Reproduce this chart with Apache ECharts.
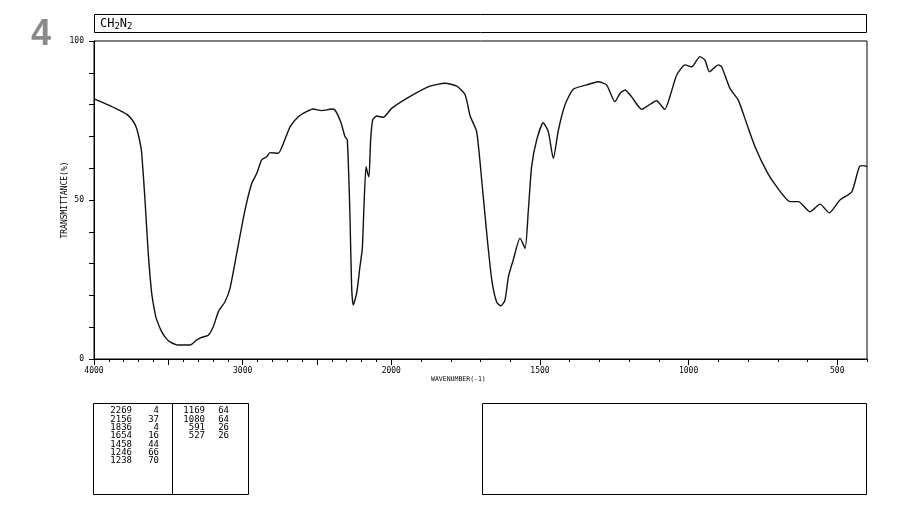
<!DOCTYPE html>
<html>
<head>
<meta charset="utf-8">
<script src="https://cdn.jsdelivr.net/npm/echarts@6/dist/echarts.min.js"></script>
<style>html,body{margin:0;padding:0;background:#fff}#c{width:905px;height:507px}</style>
</head>
<body>
<div id="c"></div>
<script>
// ---- data ----
const wavenumbers = [4000,3900,3800,3780,3740,3713,3690,3679,3657,3635,3612,3590,3578,3545,3515,3489,3433,3354,3309,3276,3231,3197,3163,3119,3085,3040,2984,2939,2905,2872,2838,2816,2760,2726,2681,2626,2570,2525,2468,2401,2379,2340,2312,2296,2278,2267,2256,2233,2211,2195,2184,2170,2159,2150,2139,2125,2098,2054,1999,1938,1870,1819,1780,1752,1735,1713,1696,1679,1662,1646,1632,1618,1606,1590,1567,1550,1539,1528,1511,1489,1472,1455,1438,1416,1388,1343,1304,1276,1248,1231,1214,1192,1158,1136,1108,1080,1063,1040,1012,990,962,945,930,900,889,861,833,805,777,737,704,659,631,592,558,527,491,451,424,410,400];
const transmittance = [81.8,79.8,77.5,77.0,75.0,72.5,68.0,64.7,50.0,33.2,20.7,14.5,12.3,8.6,6.5,5.4,4.4,4.4,6.0,6.8,7.5,10.2,14.9,18.0,22.2,33.2,46.9,55.2,58.4,62.6,63.6,64.9,64.7,67.8,73.0,76.2,77.8,78.6,78.1,78.6,78.3,74.5,70.0,68.9,45.0,22.7,17.0,20.7,29.0,34.8,47.9,60.5,58.4,57.3,68.9,75.2,76.4,76.0,78.8,82.5,85.8,86.7,85.8,83.2,76.5,71.5,56.3,39.5,24.8,18.0,16.7,18.4,25.9,31.1,38.0,34.8,46.9,60.5,68.9,74.3,71.5,63.1,72.0,79.9,84.8,86.2,87.2,86.2,80.9,83.5,84.6,82.5,78.5,79.7,81.2,78.5,82.5,89.3,92.5,91.9,95.1,94.0,90.3,92.5,91.9,85.1,81.4,74.1,66.8,58.9,54.2,49.5,49.5,46.3,48.7,46.0,50.0,52.6,60.7,60.8,60.5];
const xTickLabels = [4000,3000,2000,1500,1000,500];
const xLongTicks = [4000,3500,3000,2500,2000,1500,1000,500];
const yTickLabels = [0,50,100];
const titleText = 'CH{s|2}N{s|2}';
const pageNumber = '4';
const peakWn1 = ['2269','2156','1836','1654','1458','1246','1238'];
const peakT1  = ['4','37','4','16','44','66','70'];
const peakWn2 = ['1169','1080','591','527'];
const peakT2  = ['64','64','26','26'];

// axis scale: linear 4000-2000, doubled scale below 2000
function toU(w){ return w >= 2000 ? 4000 - w : 2000 + 2*(2000 - w); }
function fromU(u){ return u <= 2000 ? 4000 - u : 2000 - (u - 2000)/2; }

const minorTicks = [];
for (let w = 4000; w >= 400; w -= 100) minorTicks.push(toU(w));

const FONT = 'DejaVu Sans Mono';
const G = {left:94, top:41, width:773, height:318};

const graphics = [];
graphics.push({type:'text', left:31, top:17, style:{text:pageNumber, font:'bold 36px "Liberation Sans"', fill:'#8a8a8a'}});
graphics.push({type:'rect', shape:{x:94.5, y:14.5, width:772, height:18}, style:{fill:'none', stroke:'#000', lineWidth:1}});
graphics.push({type:'text', x:100, y:16, style:{text:titleText, font:'12px "'+FONT+'"', fill:'#000',
  rich:{s:{fontSize:9, fontFamily:FONT, padding:[6,0,0,0]}}}});
graphics.push({type:'text', x:431, y:376, style:{text:'WAVENUMBER(-1)', font:'6.5px "'+FONT+'"', fill:'#000'}});
graphics.push({type:'rect', shape:{x:93.5, y:403.5, width:155, height:91}, style:{fill:'none', stroke:'#000', lineWidth:1}});
graphics.push({type:'line', shape:{x1:172.5, y1:403.5, x2:172.5, y2:494.5}, style:{stroke:'#000', lineWidth:1}});
graphics.push({type:'rect', shape:{x:482.5, y:403.5, width:384, height:91}, style:{fill:'none', stroke:'#000', lineWidth:1}});
const rowH = 8.33;
peakWn1.forEach((t,i)=>{
  graphics.push({type:'text', x:132, y:411+i*rowH, style:{text:t, font:'9px "'+FONT+'"', fill:'#000', align:'right', verticalAlign:'middle'}});
  graphics.push({type:'text', x:159, y:411+i*rowH, style:{text:peakT1[i], font:'9px "'+FONT+'"', fill:'#000', align:'right', verticalAlign:'middle'}});
});
peakWn2.forEach((t,i)=>{
  graphics.push({type:'text', x:205, y:411+i*rowH, style:{text:t, font:'9px "'+FONT+'"', fill:'#000', align:'right', verticalAlign:'middle'}});
  graphics.push({type:'text', x:229, y:411+i*rowH, style:{text:peakT2[i], font:'9px "'+FONT+'"', fill:'#000', align:'right', verticalAlign:'middle'}});
});

const chart = echarts.init(document.getElementById('c'), null, {renderer:'canvas'});
chart.setOption({
  animation:false,
  backgroundColor:'#fff',
  grid:{left:G.left, top:G.top, width:G.width, height:G.height, show:true, borderColor:'#000', borderWidth:1, containLabel:false},
  xAxis:[{
    type:'value', min:0, max:5200, interval:1000, position:'bottom',
    axisLine:{show:true, onZero:false, lineStyle:{color:'#000', width:1}},
    axisTick:{show:true, customValues:xLongTicks.map(toU), length:6, lineStyle:{color:'#000'}},
    axisLabel:{show:true, customValues:xTickLabels.map(toU), formatter:v=>String(Math.round(fromU(v))), fontFamily:FONT, fontSize:8, color:'#000', margin:8},
    splitLine:{show:false}
  },{
    type:'value', min:0, max:5200, position:'bottom',
    axisLine:{show:false},
    axisTick:{show:true, customValues:minorTicks, length:3, lineStyle:{color:'#000'}},
    axisLabel:{show:false},
    splitLine:{show:false}
  }],
  yAxis:{
    type:'value', min:0, max:100, interval:10,
    name:'TRANSMITTANCE(%)', nameLocation:'middle', nameGap:25, nameRotate:90, nameMoveOverlap:false,
    nameTextStyle:{fontFamily:FONT, fontSize:8, color:'#000'},
    axisLine:{show:true, onZero:false, lineStyle:{color:'#000'}},
    axisTick:{show:true, length:5, lineStyle:{color:'#000'}},
    axisLabel:{customValues:yTickLabels, fontFamily:FONT, fontSize:8, color:'#000', margin:10},
    splitLine:{show:false}
  },
  series:[{
    type:'line', xAxisIndex:0, yAxisIndex:0, showSymbol:false, smooth:0.2,
    lineStyle:{color:'#111', width:1.4},
    data: wavenumbers.map((w,i)=>[toU(w), transmittance[i]])
  }],
  graphic:graphics
});
</script>
</body>
</html>
